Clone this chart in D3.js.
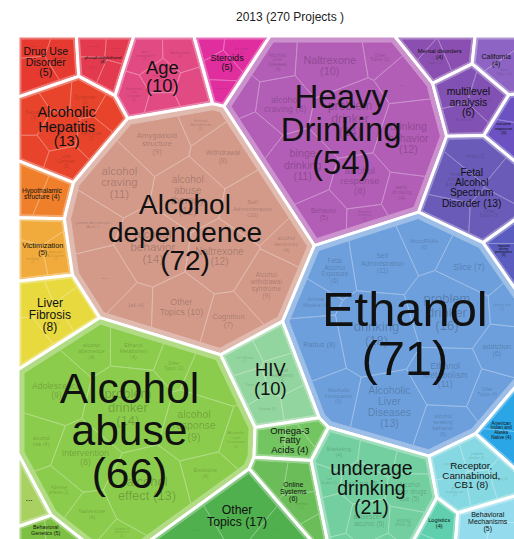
<!DOCTYPE html>
<html>
<head>
<meta charset="utf-8">
<script src="https://cdn.jsdelivr.net/npm/d3@7"></script>
<style>
  body { margin: 0; background: #fff; }
  svg { display: block; font-family: "Liberation Sans", Arial, sans-serif; }
</style>
</head>
<body>
<div id="chart"></div>
<script>
const W = 514, H = 539;
const title = "2013 (270 Projects )";

// top level topics ("|" = line break, {n} = project count)
const topicNames = [
  "Drug Use|Disorder|({n})", "phosphatidylethanol|({n})", "Age|({n})", "Steroids|({n})",
  "Heavy|Drinking|({n})", "Mental disorders|({n})", "California|({n})", "multilevel|analysis|({n})",
  "cocaine|exposure|({n})", "Fetal|Alcohol|Spectrum|Disorder ({n})", "impaired|driving|performance|({n})",
  "Alcoholic|Hepatitis|({n})", "Hypothalamic|structure ({n})", "Victimization|({n})", "Liver|Fibrosis|({n})",
  "Alcohol|dependence|({n})", "Ethanol|({n})", "HIV|({n})", "Alcohol|abuse|({n})",
  "Omega-3|Fatty|Acids ({n})", "Online|Systems|({n})", "Other|Topics ({n})", "underage|drinking|({n})",
  "American|Indian and|Alaska|Native ({n})", "Receptor,|Cannabinoid,|CB1 ({n})", "Logistics|({n})",
  "Behavioral|Mechanisms|({n})", "Behavioral|Genetics ({n})", "..."
];
const topicValues = [5, 4, 10, 5, 54, 4, 4, 6, 3, 13, 3, 13, 4, 5, 8, 72, 71, 10, 66, 4, 6, 17, 21, 4, 8, 4, 5, 5, 2];
const topicColors = [
  "#e63a30", "#e33a4f", "#e24a84", "#e02e9e", "#b25db6", "#8a4fb0", "#8d64c3", "#8251b4",
  "#6b51c1", "#6b5bb9", "#5a5cc0", "#e8442c", "#ef7f2b", "#f0ab3c", "#e8d93f",
  "#d39a8a", "#6d9fdc", "#93d59f", "#8ccc4c", "#73c562", "#6abd58", "#50b04e", "#73cfa0",
  "#2aa6e6", "#86d9e2", "#5fcfae", "#94dced", "#7ec043", "#a8d161"
];

// sub topics per top level topic: [name, count]
const subTopics = [
  [["Cocaine", 2], ["...", 2], ["Other Topics", 1]],
  [["...", 1], ["alcohol use", 1], ["biomarker", 1], ["Other Topics", 1]],
  [["Intoxication", 2], ["brief intervention", 2], ["...", 2], ["Substance Use Disorder", 2], ["Adolescence", 2], ["...", 1]],
  [["...", 2], ["Estradiol", 2], ["Hormones", 1], ["...", 1]],
  [["...", 5], ["binge drinking", 11], ["Greatest Drinking", 2], ["alcohol response", 8], ["...", 3], ["alcohol craving", 8],
   ["Alcoholic Liver Diseases", 4], ["problem drinker", 14], ["early drinking", 4], ["drinking behavior", 12],
   ["Naltrexone", 10], ["Behavior", 5], ["...", 2], ["Other Topics", 3]],
  [["...", 2], ["Other Topics", 2], ["...", 1]],
  [["...", 2], ["Other Topics", 2]],
  [["Friends", 2], ["...", 2], ["Other Topics", 2]],
  [["...", 2], ["...", 1]],
  [["Fetal Alcohol Exposure", 3], ["Fetus", 3], ["...", 2], ["...", 2], ["Other Topics", 3]],
  [["...", 2], ["...", 1]],
  [["Fatty Liver", 3], ["...", 2], ["...", 2], ["Steroids", 3], ["Syndrome", 3], ["Liver Cirrhosis", 3], ["...", 2], ["Hepatocyte", 4]],
  [["...", 2], ["...", 2]],
  [["density of ACD outlets", 2], ["drinking", 2], ["...", 2]],
  [["Gene", 2], ["...", 2], ["...", 2], ["...", 2], ["...", 1]],
  [["Ethanol Metabolism", 3], ["Amygdaloid structure", 9], ["Cognition", 7], ["...", 8], ["alcohol abuse therapy", 12],
   ["alcohol behavior", 14], ["alcohol craving", 11], ["alcohol sensitivity", 4], ["Naltrexone", 12],
   ["Alcohol withdrawal syndrome", 9], ["Withdrawal", 8], ["Jail", 4], ["Self Administration", 10],
   ["gamma-Aminobutyric Acid", 7], ["Other Topics", 10]],
  [["alcohol seeking behavior", 6], ["Other Topics", 4], ["Self Administration", 11], ["Animal Models", 4],
   ["Fetal Alcohol Exposure", 6], ["Alcoholic Liver Diseases", 13], ["problem drinker", 16], ["drinking", 18],
   ["Slice", 7], ["addiction", 6], ["Ethanol Metabolism", 11], ["Alcoholic Intoxication", 6], ["Rattus", 8],
   ["MicroRNAs", 6], ["alcohol use", 2]],
  [["...", 2], ["Youth", 2], ["...", 2], ["Uganda", 2], ["sexual responsivity", 3], ["Cell Phone", 2]],
  [["Alcoholic Liver Diseases", 3], ["Ethanol Metabolism", 4], ["children of alcoholics", 2], ["Adolescence", 9],
   ["Emotions", 4], ["alcohol effect", 13], ["alcohol risk", 4], ["...", 4], ["alcohol response", 9],
   ["Intervention", 8], ["problem drinker", 14], ["Naltrexone", 4], ["Adverse effects", 3],
   ["alcohol abstinence", 4], ["Other Topics", 3]],
  [["...", 2], ["...", 2], ["...", 1]],
  [["Internet", 2], ["...", 2], ["...", 2], ["...", 1]],
  [["...", 6], ["...", 6], ["...", 5]],
  [["Twin Studies", 2], ["Marketing", 4], ["alcohol", 5], ["alcohol price", 3], ["...", 3], ["Alcohol Other drugs use", 5],
   ["adolescent alcohol", 5], ["...", 3], ["children of alcoholics", 3], ["...", 2], ["...", 2]],
  [["...", 2], ["...", 2]],
  [["problem drinker", 2], ["...", 2], ["Lipid", 2], ["Mice", 2], ["gene expression", 2]],
  [["...", 2], ["...", 2]],
  [["...", 2], ["...", 2], ["...", 1]],
  [["...", 2], ["...", 2], ["...", 1]],
  [["...", 1]]
];

// starting sites for the voronoi treemap (layout hint only, cells are computed)
const seedHints = [
  [45, 66], [105, 62], [160, 80], [228, 60], [338, 135], [440, 52], [498, 58], [462, 100],
  [508, 128], [462, 178], [510, 240], [68, 132], [42, 196], [40, 255], [48, 322],
  [188, 232], [396, 316], [260, 370], [122, 440], [268, 445], [262, 503], [200, 562], [345, 480],
  [510, 410], [465, 458], [418, 518], [485, 526], [40, 538], [26, 488]
];

const clipBox = [[18, 36], [524, 36], [524, 565], [18, 565]];

// ---------- power diagram helpers ----------
function clipHalf(poly, a, b, c) {
  const out = [];
  for (let i = 0; i < poly.length; i++) {
    const P = poly[i], Q = poly[(i + 1) % poly.length];
    const fp = a * P[0] + b * P[1] - c, fq = a * Q[0] + b * Q[1] - c;
    if (fp <= 0) out.push(P);
    if ((fp < 0 && fq > 0) || (fp > 0 && fq < 0)) {
      const t = fp / (fp - fq);
      out.push([P[0] + t * (Q[0] - P[0]), P[1] + t * (Q[1] - P[1])]);
    }
  }
  return out;
}

function powerCells(clip, sites) {
  return sites.map((s, i) => {
    let poly = clip.slice();
    for (let j = 0; j < sites.length && poly.length; j++) {
      if (j === i) continue;
      const t = sites[j];
      const a = 2 * (t.x - s.x), b = 2 * (t.y - s.y);
      const c = t.x * t.x + t.y * t.y - s.x * s.x - s.y * s.y - t.w + s.w;
      poly = clipHalf(poly, a, b, c);
    }
    return poly;
  });
}

function handleOverweighted(sites) {
  let fix;
  do {
    fix = 0;
    for (let i = 0; i < sites.length; i++) {
      for (let j = i + 1; j < sites.length; j++) {
        let s0 = sites[i], s1 = sites[j];
        if (s0.w < s1.w) [s0, s1] = [s1, s0];
        const d2 = (s0.x - s1.x) ** 2 + (s0.y - s1.y) ** 2;
        const over = s0.w - s1.w - d2;
        if (over > 0) { s0.w -= over + 1e-6; fix++; }
      }
    }
  } while (fix > 0);
}

// anchor > 0 keeps the sites pulled toward their starting point
function voronoiTreemap(clip, values, starts, iters, anchor, guard) {
  const area = Math.abs(d3.polygonArea(clip));
  const total = d3.sum(values);
  const target = values.map(v => area * v / total);
  const sites = starts.map(p => ({ x: p[0], y: p[1], ax: p[0], ay: p[1], w: 0 }));
  if (sites.length === 1) return [clip];
  let cells;
  for (let k = 0; k < iters; k++) {
    cells = powerCells(clip, sites);
    sites.forEach((s, i) => {
      if (cells[i].length > 2) {
        const [cx, cy] = d3.polygonCentroid(cells[i]);
        s.x = anchor * s.ax + (1 - anchor) * cx;
        s.y = anchor * s.ay + (1 - anchor) * cy;
      }
    });
    if (guard) handleOverweighted(sites);
    cells = powerCells(clip, sites);
    // additive update in radius space: grow cells that are too small
    sites.forEach((s, i) => {
      const a = cells[i].length > 2 ? Math.abs(d3.polygonArea(cells[i])) : 0;
      const rT = Math.sqrt(target[i] / Math.PI), rA = Math.sqrt(a / Math.PI);
      const rW = Math.sqrt(Math.max(s.w, 0));
      const rNew = Math.max(0, rW + 0.6 * (rT - rA));
      s.w = rNew * rNew;
    });
    if (guard) handleOverweighted(sites);
  }
  return powerCells(clip, sites);
}

function insetPolygon(poly, d) {
  const [cx, cy] = d3.polygonCentroid(poly);
  let out = poly.slice();
  for (let i = 0; i < poly.length && out.length; i++) {
    const P = poly[i], Q = poly[(i + 1) % poly.length];
    let nx = -(Q[1] - P[1]), ny = Q[0] - P[0];
    const len = Math.hypot(nx, ny);
    if (len < 1e-9) continue;
    nx /= len; ny /= len;
    if (nx * (cx - P[0]) + ny * (cy - P[1]) < 0) { nx = -nx; ny = -ny; }
    out = clipHalf(out, -nx, -ny, -(nx * P[0] + ny * P[1]) - d);
  }
  return out;
}

function clipToView(poly) {
  let out = poly;
  out = clipHalf(out, -1, 0, 0);
  out = clipHalf(out, 1, 0, W);
  out = clipHalf(out, 0, -1, 0);
  out = clipHalf(out, 0, 1, H);
  return out;
}

function chord(poly, y) {
  const xs = [];
  for (let i = 0; i < poly.length; i++) {
    const [x1, y1] = poly[i], [x2, y2] = poly[(i + 1) % poly.length];
    if ((y1 <= y && y2 > y) || (y2 <= y && y1 > y)) xs.push(x1 + (y - y1) / (y2 - y1) * (x2 - x1));
  }
  return xs.length >= 2 ? [d3.min(xs), d3.max(xs)] : null;
}

// ---------- drawing ----------
const svg = d3.select("#chart").append("svg").attr("width", W).attr("height", H);

const measure = svg.append("text").attr("font-size", 100).attr("visibility", "hidden");
function textWidth(s) {
  measure.text(s);
  return measure.node().getComputedTextLength() / 100;
}

function fitFont(poly, lines, fs0, lh, frac) {
  const wMax = d3.max(lines, textWidth);
  const [cx, cy] = d3.polygonCentroid(poly);
  const ys = poly.map(p => p[1]);
  const hAvail = d3.max(ys) - d3.min(ys);
  let fs = fs0;
  for (let k = 0; k < 60; k++) {
    const bh = lines.length * fs * lh;
    let minW = Infinity;
    for (const y of [cy - bh / 2, cy, cy + bh / 2]) {
      const ch = chord(poly, y);
      minW = Math.min(minW, ch ? 2 * Math.min(cx - ch[0], ch[1] - cx) : 0);
    }
    if (wMax * fs <= frac * minW && bh <= 0.9 * hAvail) break;
    fs *= 0.95;
  }
  return fs;
}

function drawLabel(g, poly, lines, fs, lh, fill, opacity) {
  const [cx, cy] = d3.polygonCentroid(poly);
  const t = g.append("text")
    .attr("text-anchor", "middle")
    .attr("font-size", fs.toFixed(2))
    .attr("fill", fill)
    .attr("fill-opacity", opacity);
  lines.forEach((line, k) => {
    t.append("tspan")
      .attr("x", cx)
      .attr("y", cy + (k - (lines.length - 1) / 2) * fs * lh + 0.35 * fs)
      .text(line);
  });
}

function wrapLabel(name, v) {
  if (name === "...") return ["..."];
  const words = (name + " (" + v + ")").split(" ");
  const maxLen = Math.max(11, d3.max(words, w => w.length));
  const lines = [];
  let cur = "";
  words.forEach(w => {
    if (!cur) cur = w;
    else if ((cur + " " + w).length <= maxLen) cur += " " + w;
    else { lines.push(cur); cur = w; }
  });
  lines.push(cur);
  return lines;
}

svg.append("text")
  .attr("x", 290)
  .attr("y", 21)
  .attr("text-anchor", "middle")
  .attr("font-size", 12)
  .attr("fill", "#222")
  .text(title);

const topCells = voronoiTreemap(clipBox, topicValues, seedHints, 250, 0.75, false);

const gTop = svg.append("g");
const gSub = svg.append("g");
const gSubText = svg.append("g");
const gTopText = svg.append("g");

const line = d3.line().curve(d3.curveLinearClosed);

topCells.forEach((poly, i) => {
  if (poly.length < 3) return;
  const base = topicColors[i];
  const light = d3.interpolateRgb(base, "#ffffff")(0.32);

  gTop.append("path")
    .attr("d", line(poly))
    .attr("fill", light)
    .attr("stroke", "#fff")
    .attr("stroke-width", 3)
    .attr("stroke-linejoin", "round");

  const area = Math.abs(d3.polygonArea(poly));
  const inset = insetPolygon(poly, Math.min(6, Math.max(3, Math.sqrt(area) / 30)));
  if (inset.length < 3) return;

  // sub topic cells
  const subs = subTopics[i];
  const order = d3.range(subs.length).sort((a, b) => subs[b][1] - subs[a][1]);
  const [cx, cy] = d3.polygonCentroid(inset);
  const R = 0.7 * Math.sqrt(Math.abs(d3.polygonArea(inset)) / Math.PI);
  const starts = new Array(subs.length);
  order.forEach((idx, k) => {
    const r = k === 0 ? 0 : R * Math.sqrt(k / subs.length);
    const ang = k * 2.39996 + i;
    let p = [cx + r * Math.cos(ang), cy + r * Math.sin(ang)];
    let tries = 0;
    while (!d3.polygonContains(inset, p) && tries < 20) {
      p = [(p[0] + cx) / 2 + 0.01 * k, (p[1] + cy) / 2];
      tries++;
    }
    starts[idx] = p;
  });
  const subCells = voronoiTreemap(inset, subs.map(d => d[1]), starts, 80, 0, true);

  subCells.forEach((sp, j) => {
    if (sp.length < 3) return;
    gSub.append("path")
      .attr("d", line(sp))
      .attr("fill", base)
      .attr("stroke", light)
      .attr("stroke-width", 1)
      .attr("stroke-linejoin", "round");
    if (subs.length < 2) return;   // single sub cell: the top label is enough
    const vis = clipToView(sp);
    if (vis.length < 3 || Math.abs(d3.polygonArea(vis)) < 20) return;
    const lines = wrapLabel(subs[j][0], subs[j][1]);
    const fs = fitFont(vis, lines, Math.min(subs[j][1] + 1.5, 13), 1.05, 0.85);
    drawLabel(gSubText, vis, lines, fs, 1.05, "#000", 0.22);
  });

  // top level label
  const vis = clipToView(poly);
  const lines = topicNames[i].replace("{n}", topicValues[i]).split("|");
  const fs = fitFont(vis, lines, Math.min(5.8 * Math.sqrt(topicValues[i]), 50), 1.0, 0.86);
  drawLabel(gTopText, vis, lines, fs, 1.0, "#111", 1);
});

measure.remove();
</script>
</body>
</html>
